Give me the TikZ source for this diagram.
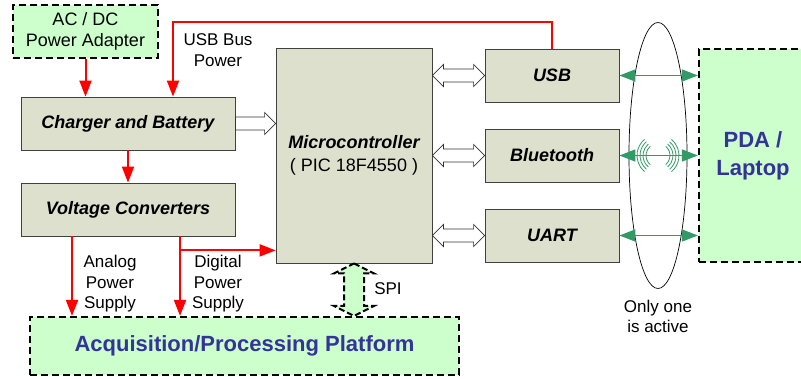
\documentclass[tikz,border=0pt]{standalone}
\usepackage{fontspec}
\setmainfont{Liberation Sans}
\usetikzlibrary{arrows.meta,positioning,calc,shapes.geometric}

\definecolor{boxfill}{RGB}{221,224,204}
\definecolor{hostfill}{RGB}{204,255,204}
\definecolor{titleblue}{RGB}{51,51,153}
\definecolor{linkgreen}{RGB}{51,153,102}

\tikzset{
  block/.style={draw=black!75, fill=boxfill, line width=0.8pt, minimum height=53pt,
    font=\fontsize{18}{23}\selectfont\bfseries\itshape, align=center},
  host/.style={draw, fill=hostfill, line width=2.2pt, dash pattern=on 7pt off 4pt, align=center},
  power/.style={->, red, line width=2pt},
  link/.style={<->, linkgreen, line width=1.5pt},
  hollow/.style={draw=black!80, fill=white, line width=0.7pt},
  spiarrow/.style={draw, fill=hostfill, line width=2pt, dash pattern=on 6pt off 3pt},
  wave/.style={linkgreen, line width=0.8pt},
  lbl/.style={font=\fontsize{17}{20.5}\selectfont, align=center}
}

% hollow arrows between two points
\newcommand{\sglarrow}[2]{\draw[hollow] ($(#1)+(0,6.5)$) -- ($(#2)+(-11,6.5)$) -- ++(0,4.5) -- (#2)
  -- ++(-11,-11) -- ++(0,4.5) -- ($(#1)+(0,-6.5)$) -- cycle;}
\newcommand{\dblarrow}[2]{\draw[hollow] (#1) -- ++(11,-11) -- ++(0,4.5) -- ($(#2)+(-11,-6.5)$)
  -- ++(0,-4.5) -- (#2) -- ++(-11,11) -- ++(0,-4.5) -- ($(#1)+(11,6.5)$) -- ++(0,4.5) -- cycle;}
\newcommand{\vdblarrow}[2]{\draw[spiarrow] (#1) -- ++(20,10) -- ++(-10,0) -- ($(#2)+(10,-10)$)
  -- ++(10,0) -- (#2) -- ++(-20,-10) -- ++(10,0) -- ($(#1)+(-10,10)$) -- ++(-10,0) -- cycle;}

\begin{document}
\begin{tikzpicture}[x=1pt,y=-1pt,>={Triangle[length=16pt,width=12pt]},node distance=80pt]
  \useasboundingbox (0,0) rectangle (801,379);
  \clip (0,0) rectangle (801,379);

  % power side
  \node[host, minimum width=145pt, minimum height=53pt, font=\fontsize{18}{20.5}\selectfont] (adapter) at (85.5,31.5) {AC / DC\\Power Adapter};
  \node[block, minimum width=214pt] (charger) at (128,123.5) {Charger and Battery};
  \node[block, minimum width=214pt] (volt) [below of = charger, node distance=86pt] {Voltage Converters};
  \node[block, minimum width=156pt, minimum height=215pt] (micro) at (354,155.5) {Microcontroller\\{\mdseries\upshape ( PIC 18F4550 )}};

  % interfaces
  \node[block, minimum width=134pt] (usb) at (552,75.5) {USB};
  \node[block, minimum width=134pt] (bt) [below of = usb] {Bluetooth};
  \node[block, minimum width=134pt] (uart) [below of = bt] {UART};

  \node[host, minimum width=108pt, minimum height=213pt, text=titleblue, font=\fontsize{22}{28}\selectfont\bfseries] (pda) at (753,155.5) {PDA /\\Laptop};
  \node[host, minimum width=429pt, minimum height=58pt, text=titleblue, font=\fontsize{22}{26}\selectfont\bfseries] (platform) at (244.5,346) {Acquisition/Processing Platform};

  \node[draw, ellipse, minimum width=58pt, minimum height=266pt, line width=0.7pt] (group) at (658,155.5) {};
  \node[lbl] (active) at (658,316.5) {Only one\\is active};

  % supply lines
  \draw[power] (adapter.south) -- (adapter.south |- charger.north);
  \coordinate (bus) at (173,22);
  \draw[power] (usb.north) |- (bus) -- (bus |- charger.north);
  \node[lbl] (buslbl) at (218,50) {USB Bus\\Power};
  \draw[power] (charger) -- (volt);

  \coordinate (ana) at ([xshift=-56pt]volt.south);
  \coordinate (dig) at ([xshift=52pt]volt.south);
  \coordinate (branch) at ([yshift=-14pt]dig);
  \draw[power] (ana) -- (ana |- platform.north);
  \draw[power] (dig) -- (dig |- platform.north);
  \draw[power] (branch) -- (branch -| micro.west);
  \node[lbl] (analoglbl) at (110,284) {Analog\\Power\\Supply};
  \node[lbl] (digitallbl) at (218,284) {Digital\\Power\\Supply};

  % data
  \sglarrow{charger.east}{charger.east -| micro.west}
  \dblarrow{micro.east |- usb.west}{usb.west}
  \dblarrow{micro.east |- bt.west}{bt.west}
  \dblarrow{micro.east |- uart.west}{uart.west}
  \vdblarrow{micro.south}{platform.north -| micro.south}
  \node[lbl] (spilbl) at (388,289) {SPI};

  \draw[link] (usb.east) -- (usb.east -| pda.west);
  \draw[link] (bt.east) -- (bt.east -| pda.west);
  \draw[link] (uart.east) -- (uart.east -| pda.west);
  \foreach \r in {12,15,18,21} {
    \draw[wave] ([shift={(-50:\r)}]group.center) arc (-50:50:\r);
    \draw[wave] ([shift={(130:\r)}]group.center) arc (130:230:\r);
  }
\end{tikzpicture}
\end{document}
